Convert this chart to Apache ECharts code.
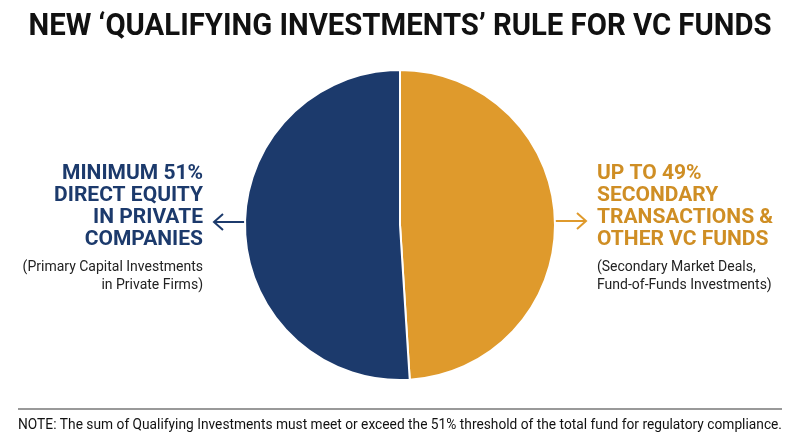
<!DOCTYPE html>
<html><head><meta charset="utf-8">
<script src="https://cdn.jsdelivr.net/npm/echarts@6/dist/echarts.min.js"></script>
<style>html,body{margin:0;padding:0;background:#fff}#c{width:800px;height:447px}</style>
</head><body><div id="c"></div>
<script>
const titleText = "NEW \u2018QUALIFYING INVESTMENTS\u2019 RULE FOR VC FUNDS";
const categories = ["Secondary Transactions & Other VC Funds", "Direct Equity in Private Companies"];
const values = [49, 51];
const colors = ["#df9a2c", "#1c3a6c"];
const leftHead = ["MINIMUM 51%", "DIRECT EQUITY", "IN PRIVATE", "COMPANIES"];
const leftSub = ["(Primary Capital Investments", "in Private Firms)"];
const rightHead = ["UP TO 49%", "SECONDARY", "TRANSACTIONS &", "OTHER VC FUNDS"];
const rightSub = ["(Secondary Market Deals,", "Fund-of-Funds Investments)"];
const noteText = "NOTE: The sum of Qualifying Investments must meet or exceed the 51% threshold of the total fund for regulatory compliance.";

function measure(text, font){
  const cv = document.createElement('canvas').getContext('2d');
  cv.font = font; return cv.measureText(text).width;
}
const titleW = measure(titleText, 'bold 32px Roboto');
const titleScale = 743 / titleW;
const noteW = measure(noteText, '14px Roboto');
const noteScale = 764 / noteW;

const chart = echarts.init(document.getElementById('c'));
const headStyle = (color, align) => ({fontFamily:'Roboto', fontWeight:'bold', fontSize:21, lineHeight:22, fill:color, textAlign:align, textVerticalAlign:'top'});
const subStyle = (align) => ({fontFamily:'Roboto', fontSize:14, lineHeight:18.5, fill:'#222', textAlign:align, textVerticalAlign:'top'});
chart.setOption({
  animation:false,
  series:[{
    type:'pie', center:[400,225], radius:155, startAngle:90, clockwise:true,
    label:{show:false}, labelLine:{show:false},
    itemStyle:{borderColor:'#fff', borderWidth:2},
    data: categories.map((c,i)=>({name:c, value:values[i], itemStyle:{color:colors[i]}}))
  }],
  graphic:[
    {type:'text', x:400, y:27, scaleX:Math.min(1,titleScale), style:{text:titleText, fontFamily:'Roboto', fontWeight:'bold', fontSize:32, fill:'#111', textAlign:'center', textVerticalAlign:'middle'}},
    {type:'text', x:203, y:163, style:Object.assign({text:leftHead.join('\n')}, headStyle('#1c3a6c','right'))},
    {type:'text', x:203, y:258, style:Object.assign({text:leftSub.join('\n')}, subStyle('right'))},
    {type:'text', x:597, y:163, style:Object.assign({text:rightHead.join('\n')}, headStyle('#cf8e24','left'))},
    {type:'text', x:597, y:258, style:Object.assign({text:rightSub.join('\n')}, subStyle('left'))},
    {type:'polyline', shape:{points:[[245,222],[214,222]]}, style:{stroke:'#1c3a6c', lineWidth:2, fill:null}},
    {type:'polyline', shape:{points:[[223,214],[214,222],[223,230]]}, style:{stroke:'#1c3a6c', lineWidth:2, fill:null}},
    {type:'polyline', shape:{points:[[555,221],[586,221]]}, style:{stroke:'#df9a2c', lineWidth:2, fill:null}},
    {type:'polyline', shape:{points:[[577,213],[586,221],[577,229]]}, style:{stroke:'#df9a2c', lineWidth:2, fill:null}},
    {type:'line', shape:{x1:18, y1:409, x2:782, y2:409}, style:{stroke:'#777', lineWidth:1.5}},
    {type:'text', x:400, y:425, scaleX:Math.min(1,noteScale), style:{text:noteText, fontFamily:'Roboto', fontSize:14, fill:'#111', textAlign:'center', textVerticalAlign:'middle'}}
  ]
});
</script></body></html>
